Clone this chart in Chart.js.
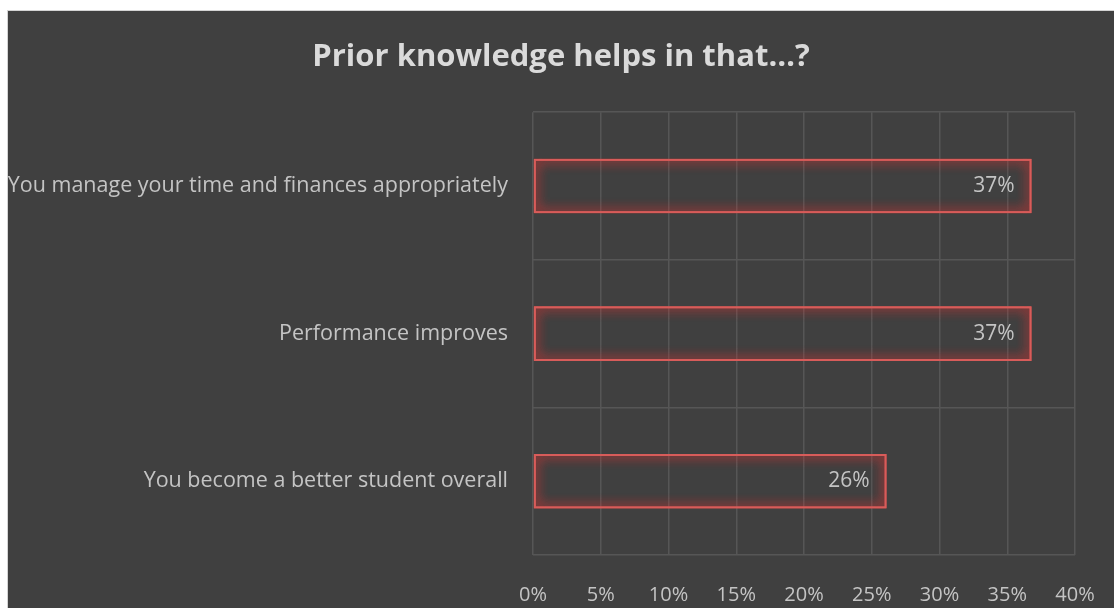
<!DOCTYPE html>
<html>
<head>
<meta charset="utf-8">
<script src="https://cdn.jsdelivr.net/npm/chart.js@4"></script>
<style>
  html, body { margin: 0; padding: 0; background: #ffffff; }
  #caixa {
    position: absolute;
    left: 7px; top: 10px;
    width: 1106px; height: 597px;
    background: #404040;
    border: 1px solid #d4d4d4;
    border-right: none; border-bottom: none;
  }
</style>
</head>
<body>
<div id="caixa"><canvas id="meuGrafico" width="1106" height="597"></canvas></div>
<script>
const categorias = [
  "You manage your time and finances appropriately",
  "Performance improves",
  "You become a better student overall"
];
const valores = [36.8, 36.8, 26.1];
const rotulosValores = ["37%", "37%", "26%"];
const ticksX = [0, 5, 10, 15, 20, 25, 30, 35, 40];

const corTexto = "#c4c4c4";
const corGrade = "#565656";
const fonte = "'Open Sans', sans-serif";

// brilho vermelho em volta das barras (desenha duas vezes pra ficar mais forte)
const pluginBrilho = {
  id: "brilho",
  beforeDatasetDraw(chart) {
    const ctx = chart.ctx;
    ctx.save();
    ctx.shadowColor = "rgba(235, 50, 50, 1)";
    ctx.shadowBlur = 12;
  },
  afterDatasetDraw(chart, args) {
    const ctx = chart.ctx;
    args.meta.data.forEach(barra => barra.draw(ctx));
    ctx.restore();
  }
};

// rotulo do valor dentro da barra
const pluginRotulos = {
  id: "rotulos",
  afterDatasetsDraw(chart) {
    const ctx = chart.ctx;
    const meta = chart.getDatasetMeta(0);
    ctx.save();
    ctx.font = "21px " + fonte;
    ctx.fillStyle = corTexto;
    ctx.textAlign = "right";
    ctx.textBaseline = "middle";
    meta.data.forEach((barra, i) => {
      ctx.fillText(rotulosValores[i], barra.x - 17, barra.y);
    });
    ctx.restore();
  }
};

const ctx = document.getElementById("meuGrafico").getContext("2d");
new Chart(ctx, {
  type: "bar",
  data: {
    labels: categorias,
    datasets: [{
      data: valores,
      backgroundColor: "rgba(0,0,0,0)",
      borderColor: "#d85c5a",
      borderWidth: 2,
      borderSkipped: false,
      barPercentage: 0.37,
      categoryPercentage: 1
    }]
  },
  options: {
    indexAxis: "y",
    responsive: false,
    animation: false,
    layout: { padding: 0 },
    plugins: {
      legend: { display: false },
      tooltip: { enabled: false },
      title: {
        display: true,
        text: "Prior knowledge helps in that…?",
        color: "#dadada",
        font: { family: fonte, size: 31, weight: "bold" },
        padding: { top: 28, bottom: 36 }
      }
    },
    scales: {
      x: {
        min: 0,
        max: 40,
        afterBuildTicks(scale) {
          scale.ticks = ticksX.map(v => ({ value: v }));
        },
        afterFit(scale) {
          scale.height = 53;
          scale.paddingLeft = 0;
          scale.paddingRight = 39;
        },
        grid: { color: corGrade, drawTicks: false, lineWidth: 1.5 },
        border: { display: false },
        ticks: {
          color: corTexto,
          padding: 28,
          font: { family: fonte, size: 20 },
          callback: v => v + "%"
        }
      },
      y: {
        afterFit(scale) { scale.width = 525; },
        grid: { color: corGrade, drawTicks: false, lineWidth: 1.5 },
        border: { display: false },
        ticks: {
          color: corTexto,
          padding: 25,
          font: { family: fonte, size: 21.5 }
        }
      }
    }
  },
  plugins: [pluginBrilho, pluginRotulos]
});
</script>
</body>
</html>
